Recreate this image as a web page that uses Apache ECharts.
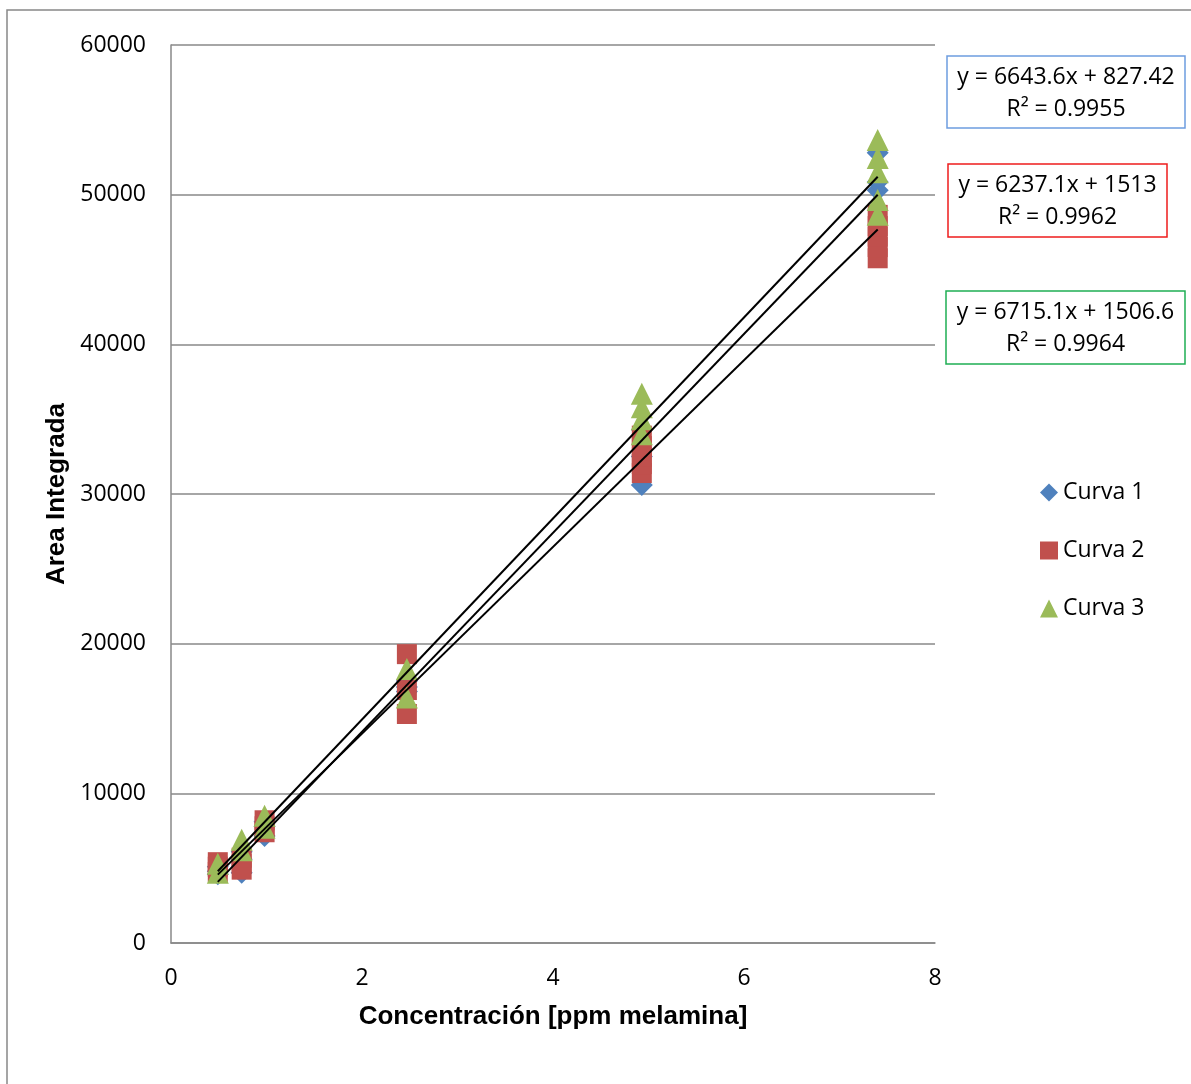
<!DOCTYPE html>
<html>
<head>
<meta charset="utf-8">
<script src="https://cdn.jsdelivr.net/npm/echarts@6/dist/echarts.min.js"></script>
<style>
html,body{margin:0;padding:0;background:#fff;}
#chart{width:1191px;height:1084px;}
</style>
</head>
<body>
<div id="chart"></div>
<script>
// Data
const seriesNames = ['Curva 1', 'Curva 2', 'Curva 3'];
const curva1 = [
  [0.49, 4600], [0.49, 4800], [0.49, 5100],
  [0.74, 4700], [0.74, 5600], [0.74, 6100],
  [0.98, 7150], [0.98, 7800], [0.98, 8100],
  [2.47, 16800], [2.47, 17100], [2.47, 17500],
  [4.93, 30600], [4.93, 32500], [4.93, 34300],
  [7.40, 50300], [7.40, 50850], [7.40, 52800]
];
const curva2 = [
  [0.49, 4750], [0.49, 5100], [0.49, 5400],
  [0.74, 4900], [0.74, 5300], [0.74, 5700],
  [0.98, 7400], [0.98, 7800], [0.98, 8200],
  [2.47, 15300], [2.47, 16900], [2.47, 19300],
  [4.93, 31400], [4.93, 32000], [4.93, 32500], [4.93, 33200], [4.93, 33900],
  [7.40, 45750], [7.40, 46500], [7.40, 47200], [7.40, 47900], [7.40, 48650]
];
const curva3 = [
  [0.49, 4700], [0.49, 5300],
  [0.74, 6200], [0.74, 6900],
  [0.98, 7700], [0.98, 8500],
  [2.47, 16400], [2.47, 18300],
  [4.93, 34000], [4.93, 35000], [4.93, 35800], [4.93, 36700],
  [7.40, 48650], [7.40, 49650], [7.40, 51500], [7.40, 52450], [7.40, 53650]
];
// Trendline coefficients shown in the chart
const slopes = [6643.6, 6237.1, 6715.1];
const intercepts = [827.42, 1513, 1506.6];
const r2 = ['0.9955', '0.9962', '0.9964'];
const eqTexts = ['y = 6643.6x + 827.42', 'y = 6237.1x + 1513', 'y = 6715.1x + 1506.6'];
const trendRange = [0.49, 7.40];
const yTicks = [0, 10000, 20000, 30000, 40000, 50000, 60000];
const xTicks = [0, 2, 4, 6, 8];

const colors = ['#4f81bd', '#c0504d', '#9bbb59'];
const symbols = ['diamond', 'rect', 'triangle'];
const symSizes = [[22, 22], [20, 20], [22, 22]];
const boxColors = ['#6d9de0', '#ee1c1c', '#1fae54'];
const allData = [curva1, curva2, curva3];

const chart = echarts.init(document.getElementById('chart'));

const scatterSeries = allData.map((d, i) => ({
  name: seriesNames[i],
  type: 'scatter',
  data: d,
  symbol: symbols[i],
  symbolSize: symSizes[i],
  itemStyle: { color: colors[i], opacity: 1 },
  z: 2 + i
}));

const trendSeries = slopes.map((m, i) => ({
  name: 'trend' + i,
  type: 'line',
  data: trendRange.map(x => [x, m * x + intercepts[i]]),
  showSymbol: false,
  symbol: 'none',
  lineStyle: { color: '#000', width: 2 },
  z: 10,
  silent: true
}));

const boxes = [
  { x: 947, y: 56, w: 238, h: 72 },
  { x: 948, y: 164, w: 219, h: 73 },
  { x: 946, y: 291, w: 239, h: 73 }
];
const graphics = [
  { type: 'rect', shape: { x: 7, y: 10, width: 1200, height: 1100 }, style: { fill: 'none', stroke: '#888', lineWidth: 1.5 }, silent: true }
];
boxes.forEach((b, i) => {
  graphics.push({ type: 'rect', shape: { x: b.x, y: b.y, width: b.w, height: b.h }, style: { fill: '#fff', stroke: boxColors[i], lineWidth: 1.5 } });
  graphics.push({ type: 'text', x: b.x + b.w / 2, y: b.y + b.h / 2 + 1, style: { text: eqTexts[i] + '\nR² = ' + r2[i], fill: '#000', font: '23px "Open Sans"', align: 'center', verticalAlign: 'middle', lineHeight: 32 } });
});

chart.setOption({
  animation: false,
  backgroundColor: '#fff',
  grid: { left: 171, right: 256, top: 45, bottom: 141 },
  legend: {
    data: seriesNames,
    orient: 'vertical',
    left: 1035,
    top: 476,
    itemWidth: 18,
    itemHeight: 18,
    itemGap: 35,
    textStyle: { fontFamily: 'Open Sans', fontSize: 23, color: '#000' }
  },
  xAxis: {
    type: 'value', min: 0, max: 8, interval: 2,
    name: 'Concentración [ppm melamina]',
    nameLocation: 'middle', nameGap: 61,
    nameTextStyle: { fontFamily: 'Liberation Sans', fontWeight: 'bold', fontSize: 26, color: '#000' },
    axisLine: { show: true, lineStyle: { color: '#888', width: 1.5 } },
    axisTick: { show: false },
    splitLine: { show: false },
    axisLabel: { margin: 24, fontFamily: 'Open Sans', fontSize: 23, color: '#000' }
  },
  yAxis: {
    type: 'value', min: 0, max: 60000, interval: 10000,
    name: 'Area Integrada',
    nameLocation: 'middle', nameGap: 97,
    nameRotate: 90,
    nameTextStyle: { fontFamily: 'Liberation Sans', fontWeight: 'bold', fontSize: 26, color: '#000' },
    axisLine: { show: true, lineStyle: { color: '#888', width: 1.5 } },
    axisTick: { show: false },
    splitLine: { show: true, lineStyle: { color: '#888', width: 1.5 } },
    axisLabel: { margin: 25, fontFamily: 'Open Sans', fontSize: 23, color: '#000', formatter: v => String(v) }
  },
  series: scatterSeries.concat(trendSeries),
  graphic: graphics
});
</script>
</body>
</html>
